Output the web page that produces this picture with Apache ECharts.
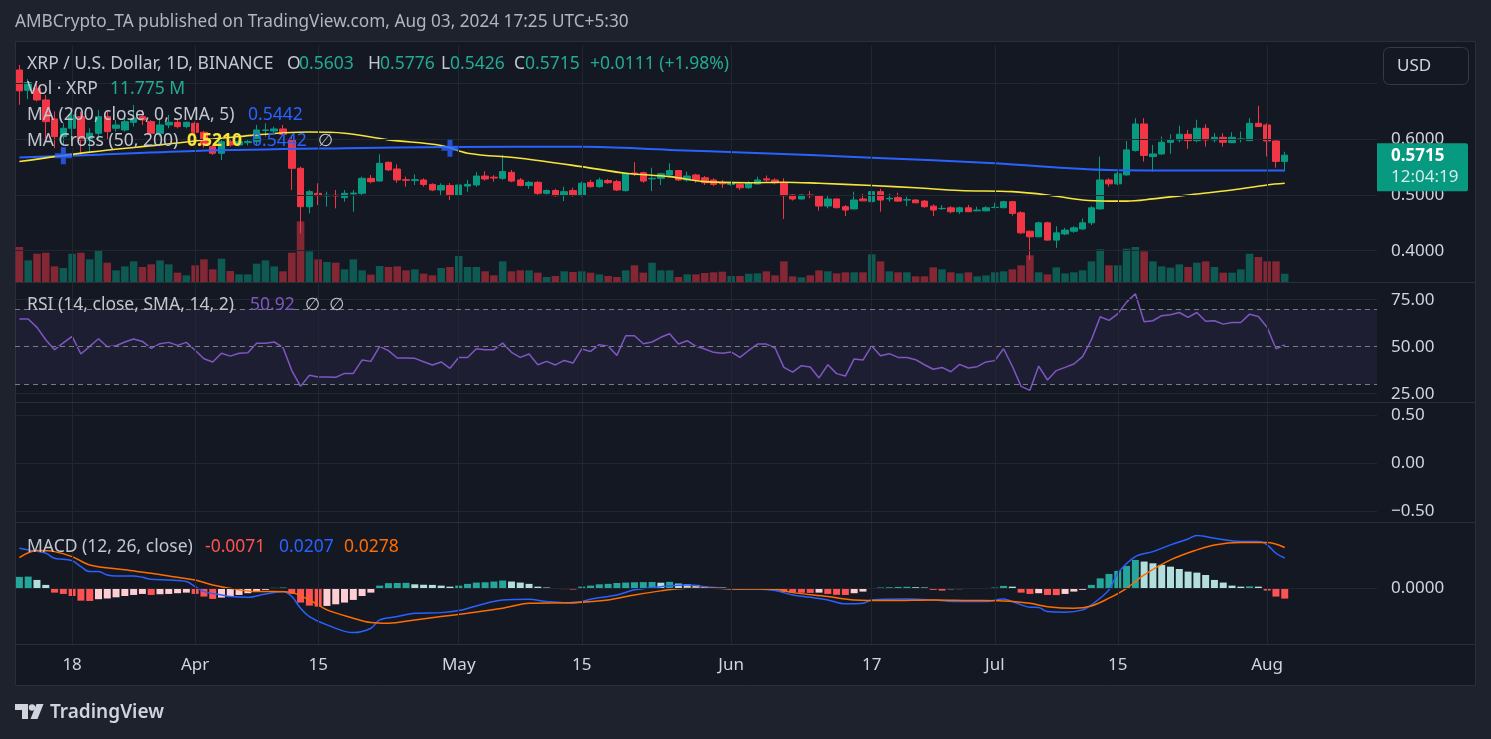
<!DOCTYPE html>
<html><head><meta charset="utf-8">
<script src="https://cdn.jsdelivr.net/npm/echarts@6/dist/echarts.min.js"></script>
<style>html,body{margin:0;padding:0;background:#1e222d;overflow:hidden}#c{width:1491px;height:739px}</style>
</head><body><div id="c"></div>
<script>
// ---------------- DATA ----------------
const startDate = [2024, 2, 12]; // Mar 12 2024, first daily candle
const dayCount = 155;            // categories shown on the time axis (incl. empty right margin)
// [open, high, low, close]
const candles = [
[0.7245,0.7335,0.662,0.687],[0.688,0.708,0.672,0.702],[0.6916,0.705,0.668,0.6707],[0.6707,0.6796,0.6018,0.6317],
[0.6365,0.650,0.584,0.6048],[0.6048,0.629,0.590,0.6198],[0.6198,0.6527,0.596,0.6437],[0.6407,0.6497,0.572,0.5988],
[0.5988,0.620,0.578,0.6108],[0.6108,0.6527,0.5988,0.6407],[0.6407,0.6497,0.5988,0.6138],[0.6198,0.6347,0.6138,0.6257],
[0.6168,0.6497,0.6138,0.6317],[0.6305,0.6617,0.6228,0.6377],[0.6407,0.6527,0.6257,0.6347],[0.6317,0.6347,0.6078,0.6108],
[0.6108,0.6377,0.6048,0.6257],[0.6257,0.6437,0.6198,0.6305],[0.6305,0.6347,0.6198,0.6228],[0.6228,0.6317,0.6198,0.6305],
[0.6287,0.6317,0.6048,0.6126],[0.6126,0.615,0.585,0.590],[0.5868,0.5898,0.5719,0.5749],[0.5749,0.6018,0.5629,0.5958],
[0.5958,0.600,0.5868,0.5898],[0.5898,0.600,0.5868,0.5958],[0.594,0.600,0.589,0.596],[0.5958,0.6257,0.5898,0.6168],
[0.616,0.6287,0.6048,0.6168],[0.615,0.6228,0.612,0.6186],[0.6186,0.6257,0.6078,0.609],[0.5988,0.6078,0.509,0.5479],
[0.5479,0.551,0.431,0.479],[0.479,0.509,0.467,0.506],[0.503,0.521,0.482,0.4988],[0.4985,0.506,0.479,0.4995],
[0.4995,0.509,0.476,0.4985],[0.4952,0.509,0.488,0.503],[0.502,0.509,0.470,0.5035],[0.503,0.533,0.500,0.5299],
[0.5299,0.5359,0.521,0.5239],[0.5251,0.573,0.5239,0.5569],[0.5587,0.560,0.543,0.545],[0.5467,0.555,0.522,0.527],
[0.5275,0.533,0.515,0.5265],[0.526,0.537,0.518,0.5275],[0.527,0.530,0.515,0.519],[0.519,0.521,0.507,0.509],
[0.509,0.521,0.500,0.517],[0.517,0.5215,0.491,0.500],[0.500,0.521,0.481,0.518],[0.516,0.527,0.506,0.519],
[0.518,0.541,0.515,0.534],[0.534,0.5425,0.526,0.5287],[0.532,0.5355,0.524,0.5305],[0.530,0.572,0.527,0.542],
[0.5407,0.545,0.523,0.525],[0.527,0.5305,0.5155,0.517],[0.517,0.525,0.511,0.5227],[0.5227,0.525,0.500,0.503],
[0.503,0.510,0.501,0.508],[0.508,0.511,0.497,0.4988],[0.500,0.515,0.489,0.506],[0.508,0.513,0.497,0.500],
[0.500,0.524,0.497,0.521],[0.5227,0.527,0.513,0.515],[0.515,0.531,0.513,0.527],[0.526,0.529,0.520,0.522],
[0.524,0.527,0.507,0.509],[0.508,0.540,0.506,0.539],[0.5395,0.559,0.534,0.538],[0.540,0.542,0.522,0.525],
[0.529,0.549,0.507,0.530],[0.530,0.540,0.518,0.538],[0.536,0.557,0.535,0.544],[0.544,0.545,0.525,0.527],
[0.527,0.542,0.524,0.534],[0.536,0.538,0.522,0.527],[0.531,0.534,0.518,0.522],[0.527,0.530,0.516,0.519],
[0.5215,0.527,0.513,0.520],[0.519,0.524,0.516,0.5215],[0.519,0.521,0.509,0.513],[0.513,0.525,0.511,0.522],
[0.5198,0.533,0.519,0.527],[0.529,0.535,0.524,0.527],[0.527,0.530,0.519,0.522],[0.522,0.530,0.457,0.4988],
[0.500,0.501,0.490,0.4928],[0.4928,0.501,0.492,0.500],[0.500,0.507,0.494,0.4988],[0.4982,0.4985,0.472,0.4802],
[0.4802,0.500,0.476,0.4928],[0.4928,0.4935,0.476,0.4772],[0.479,0.482,0.462,0.473],[0.475,0.506,0.475,0.491],
[0.4928,0.502,0.489,0.4895],[0.488,0.522,0.486,0.506],[0.506,0.511,0.470,0.491],[0.493,0.502,0.488,0.494],
[0.4952,0.504,0.4885,0.489],[0.491,0.497,0.480,0.4915],[0.491,0.492,0.4855,0.486],[0.489,0.491,0.4772,0.479],
[0.480,0.483,0.462,0.473],[0.4755,0.482,0.473,0.476],[0.477,0.480,0.467,0.470],[0.470,0.479,0.466,0.477],
[0.477,0.482,0.4695,0.470],[0.4715,0.479,0.471,0.473],[0.4715,0.480,0.471,0.477],[0.4775,0.486,0.476,0.478],
[0.4772,0.4895,0.476,0.488],[0.488,0.4895,0.463,0.467],[0.468,0.471,0.430,0.432],[0.435,0.436,0.383,0.425],
[0.425,0.452,0.424,0.450],[0.450,0.452,0.418,0.419],[0.419,0.444,0.405,0.432],[0.430,0.441,0.428,0.437],
[0.435,0.444,0.432,0.441],[0.439,0.458,0.437,0.450],[0.450,0.480,0.446,0.477],[0.475,0.569,0.474,0.527],
[0.527,0.530,0.515,0.520],[0.520,0.542,0.518,0.538],[0.536,0.597,0.535,0.581],[0.580,0.638,0.578,0.6275],
[0.6275,0.638,0.560,0.571],[0.569,0.590,0.542,0.5737],[0.5737,0.605,0.572,0.5946],[0.5946,0.609,0.5737,0.5988],
[0.5988,0.6245,0.5946,0.609],[0.609,0.6168,0.583,0.5976],[0.5976,0.635,0.5946,0.6198],[0.6198,0.627,0.587,0.5988],
[0.5988,0.611,0.5946,0.6036],[0.6036,0.611,0.587,0.5946],[0.594,0.6126,0.593,0.6036],[0.600,0.6138,0.5946,0.6006],
[0.5976,0.638,0.597,0.6287],[0.6287,0.660,0.622,0.6228],[0.6257,0.6287,0.569,0.597],[0.597,0.598,0.549,0.5603],
[0.5603,0.5776,0.5426,0.5715]
];
// volume (millions XRP)
const volumes = [
49.5,30.6,40.0,41.4,22.1,19.8,40.0,41.4,32.0,44.7,27.3,16.5,22.1,29.2,21.2,25.0,30.6,25.0,13.2,9.4,
23.6,32.0,17.9,33.0,15.5,10.8,10.8,25.9,30.6,22.1,15.1,41.4,85.7,43.3,32.0,28.3,27.3,17.9,32.0,16.5,
10.4,22.6,21.2,22.1,16.5,17.9,11.8,9.4,19.8,21.2,36.7,21.2,21.2,15.1,9.4,29.2,15.1,16.5,16.5,13.2,
7.1,8.5,15.1,14.1,15.1,13.2,10.8,8.5,7.1,16.5,23.6,13.2,27.3,16.5,16.5,7.1,10.8,10.8,12.7,13.7,
14.6,8.5,8.5,11.8,12.2,15.1,9.4,29.2,8.0,6.6,9.4,16.5,15.1,12.2,13.7,13.7,13.7,39.1,29.2,15.1,
13.7,13.7,8.0,8.0,20.7,17.9,13.7,12.2,13.7,8.0,9.4,13.7,15.1,17.9,23.6,37.7,13.7,10.8,20.7,12.2,
13.7,16.5,29.2,46.2,23.6,23.6,47.1,49.5,43.3,29.2,22.1,20.3,25.0,21.2,27.3,29.2,21.2,13.2,13.2,17.9,
40.0,35.3,29.2,29.2,11.775
];
// MA 200 (blue) and MA 50 (yellow) read at [dayIndex, value]
const ma200Pts = [[0,0.5675],[5,0.5700],[20,0.5790],[37,0.5840],[49,0.5860],[64,0.5865],[74,0.5810],[83,0.5760],[97,0.5670],[111,0.5570],[124,0.5450],[135,0.5440],[144,0.5442]];
const ma50Pts = [[0,0.560],[8,0.577],[16,0.590],[25,0.605],[33,0.613],[37,0.611],[42,0.599],[48,0.589],[51,0.575],[57,0.566],[64,0.551],[69,0.539],[74,0.533],[78,0.524],[83,0.522],[87,0.523],[91,0.521],[97,0.517],[102,0.513],[107,0.508],[113,0.506],[117,0.500],[121,0.491],[124,0.489],[126,0.489],[129,0.493],[133,0.500],[138,0.509],[142,0.518],[144,0.521]];
const crossPts = [[5,0.5705],[49,0.5840]];
// RSI (14)
const rsi = [
64.7,64.7,60.3,53.7,48.4,52.0,55.5,46.1,50.2,54.2,50.0,50.5,52.5,54.1,52.8,49.1,51.6,52.3,50.7,52.3,
48.1,43.6,41.9,46.5,45.0,46.5,46.8,51.8,51.8,52.5,49.6,37.3,28.9,34.8,33.9,33.9,33.7,35.8,35.8,42.9,
42.2,50.2,47.9,44.0,44.0,43.8,42.0,40.3,41.9,38.5,44.3,44.3,48.9,48.4,48.4,51.9,47.0,44.3,46.1,40.4,
42.2,40.3,42.7,41.3,48.8,47.5,51.1,50.2,45.4,55.8,55.8,51.6,52.5,55.0,56.9,51.4,53.2,50.2,48.8,47.0,
46.5,47.2,44.3,48.0,51.4,51.4,49.3,39.0,36.5,39.9,39.2,33.4,40.4,35.7,34.4,43.5,42.9,50.4,45.2,46.3,
44.3,44.3,43.1,40.4,38.0,39.0,36.7,40.6,38.7,39.4,41.9,42.6,48.9,39.6,28.9,26.8,39.7,32.3,37.3,39.0,
40.8,44.7,53.7,65.9,64.0,67.5,73.7,78.1,63.3,63.8,66.5,67.0,68.2,65.6,68.2,63.5,63.8,62.0,62.9,62.9,
67.3,66.1,60.3,48.9,50.92
];
// MACD (12,26) histogram
const hist = [
0.0078,0.0080,0.0057,0.0023,-0.0030,-0.0039,-0.0053,-0.0085,-0.0087,-0.0075,-0.0070,-0.0062,-0.0053,-0.0046,-0.0039,-0.0046,-0.0041,-0.0039,-0.0034,-0.0030,
-0.0039,-0.0057,-0.0073,-0.0064,-0.0053,-0.0046,-0.0034,-0.0023,-0.0011,0.0003,0.0005,-0.0039,-0.0098,-0.0119,-0.0126,-0.0121,-0.0110,-0.0098,-0.0080,-0.0053,
-0.0030,0.0018,0.0035,0.0036,0.0037,0.0027,0.0024,0.0023,0.0018,0.0011,0.0018,0.0030,0.0039,0.0041,0.0046,0.0053,0.0046,0.0039,0.0030,0.0011,
0.0005,-0.0005,-0.0006,-0.0009,0.0011,0.0018,0.0027,0.0030,0.0036,0.0039,0.0041,0.0042,0.0043,0.0038,0.0044,0.0032,0.0027,0.0023,0.0011,0.0009,
0.0005,-0.0007,-0.0006,-0.0005,-0.0004,-0.0004,-0.0011,-0.0027,-0.0030,-0.0031,-0.0032,-0.0030,-0.0039,-0.0045,-0.0046,-0.0034,-0.0023,-0.0005,0.0005,0.0007,
0.0009,0.0010,0.0007,0.0005,-0.0011,-0.0016,-0.0007,-0.0006,-0.0005,-0.0004,-0.0002,0.0005,0.0016,0.0011,-0.0030,-0.0039,-0.0034,-0.0046,-0.0047,-0.0039,
-0.0023,-0.0011,0.0023,0.0068,0.0098,0.0119,0.0153,0.0194,0.0183,0.0171,0.0160,0.0148,0.0132,0.0114,0.0107,0.0091,0.0057,0.0039,0.0018,0.0011,
0.0013,0.0011,-0.0016,-0.0057,-0.0071
];
// MACD line and signal line read at [dayIndex, value]
const macdPts = [[0,0.0274],[1,0.0263],[3,0.0240],[4,0.0205],[5,0.0199],[6,0.0189],[7,0.0148],[8,0.0114],[9,0.0114],[10,0.0091],[11,0.0084],[13,0.0084],[14,0.0075],[15,0.0062],[17,0.0057],[19,0.0046],[20,0.0011],[21,-0.0023],[23,-0.0046],[24,-0.0057],[26,-0.0062],[28,-0.0039],[30,-0.0023],[31,-0.0057],[32,-0.0137],[33,-0.0194],[35,-0.0251],[38,-0.0304],[40,-0.0274],[41,-0.0217],[43,-0.0194],[45,-0.0171],[48,-0.0167],[50,-0.0153],[52,-0.0121],[55,-0.0080],[58,-0.0075],[60,-0.0091],[63,-0.0103],[65,-0.0075],[68,-0.0046],[70,-0.0011],[73,0.0011],[76,0.0023],[78,0.0011],[81,-0.0005],[84,-0.0005],[86,-0.0016],[88,-0.0046],[90,-0.0062],[92,-0.0080],[94,-0.0107],[96,-0.0103],[97,-0.0080],[101,-0.0073],[104,-0.0080],[107,-0.0091],[110,-0.0091],[112,-0.0073],[113,-0.0091],[115,-0.0130],[116,-0.0132],[117,-0.0160],[119,-0.0164],[121,-0.0148],[122,-0.0114],[124,-0.0011],[125,0.0103],[127,0.0217],[129,0.0251],[131,0.0297],[133,0.0338],[134,0.0361],[136,0.0342],[139,0.0320],[141,0.0320],[142,0.0297],[143,0.0240],[144,0.0207]];
const signalPts = [[0,0.0210],[2,0.0258],[4,0.0251],[6,0.0217],[8,0.0160],[12,0.0126],[15,0.0103],[18,0.0075],[20,0.0057],[22,0.0023],[25,-0.0011],[27,-0.0023],[29,-0.0023],[31,-0.0030],[33,-0.0080],[35,-0.0148],[38,-0.0205],[40,-0.0235],[42,-0.0240],[45,-0.0217],[48,-0.0194],[51,-0.0171],[55,-0.0137],[58,-0.0103],[63,-0.0098],[67,-0.0080],[70,-0.0046],[73,-0.0018],[76,0.0000],[79,0.0000],[82,-0.0005],[86,-0.0007],[88,-0.0030],[92,-0.0057],[95,-0.0080],[99,-0.0084],[104,-0.0080],[108,-0.0084],[112,-0.0087],[115,-0.0103],[117,-0.0126],[120,-0.0137],[122,-0.0121],[124,-0.0068],[126,0.0000],[128,0.0091],[131,0.0194],[134,0.0263],[136,0.0297],[139,0.0313],[142,0.0313],[144,0.0279]];
// axis ticks
const tickDates = ['2024-03-18','2024-04-01','2024-04-15','2024-05-01','2024-05-15','2024-06-01','2024-06-17','2024-07-01','2024-07-15','2024-08-01'];
const tickLabels = ['18','Apr','15','May','15','Jun','17','Jul','15','Aug'];
const priceGrid = [0.4, 0.5, 0.6, 0.7];
const priceTicks = [0.4, 0.5, 0.6];
const priceTickLabels = ['0.4000','0.5000','0.6000'];
const rsiTicks = [75, 50, 25];
const rsiTickLabels = ['75.00','50.00','25.00'];
const rsiLevels = [70, 50, 30];
const paneTicks = [0.5, 0, -0.5];
const paneTickLabels = ['0.50','0.00','\u22120.50'];
const macdTicks = [0];
const macdTickLabels = ['0.0000'];

// ---------------- STYLE ----------------
const FONT = '"Noto Sans", Roboto, "DejaVu Sans", sans-serif';
const UP = '#089981', DOWN = '#f23645';
const GRID = '#22262f';
const TXT = '#c3c6ce', AXT = '#d1d4dc';

const dates = [];
const t0 = Date.UTC(startDate[0], startDate[1], startDate[2]);
for (let i = 0; i < dayCount; i++) dates.push(new Date(t0 + i * 86400000).toISOString().slice(0, 10));

const chart = echarts.init(document.getElementById('c'), null, {renderer: 'canvas'});

const grids = [
  {left: 15, top: 45, width: 1362, height: 237},
  {left: 15, top: 282, width: 1362, height: 120},
  {left: 15, top: 402, width: 1362, height: 120},
  {left: 15, top: 522, width: 1362, height: 122}
];
const xAxes = grids.map((g, i) => ({
  type: 'category', gridIndex: i, data: dates, boundaryGap: true,
  axisLine: {show: false}, axisTick: {show: false}, splitLine: {show: false},
  axisLabel: i === 3 ? {
    show: true, margin: 13, color: AXT, fontSize: 17, fontFamily: FONT,
    interval: (idx, v) => tickDates.indexOf(v) >= 0,
    formatter: v => tickLabels[tickDates.indexOf(v)]
  } : {show: false}
}));
const yAxes = [
  {gridIndex: 0, type: 'value', min: 0.3438, max: 0.7693, show: false},
  {gridIndex: 0, type: 'value', min: 0, max: 335, show: false},
  {gridIndex: 1, type: 'value', min: 20.6, max: 84.4, show: false},
  {gridIndex: 2, type: 'value', min: -0.608, max: 0.635, show: false},
  {gridIndex: 3, type: 'value', min: -0.0382, max: 0.0454, show: false}
];

function gridLines(vals) { return vals.map(v => ({yAxis: v, lineStyle: {color: GRID, type: 'solid', width: 1}, label: {show: false}})); }
function vLines() { return tickDates.map(d => ({xAxis: d, lineStyle: {color: GRID, type: 'solid', width: 1}, label: {show: false}})); }
function axisTexts(vals, texts) {
  return vals.map((v, i) => ({yAxis: v, lineStyle: {color: 'rgba(0,0,0,0)', width: 1},
    label: {show: true, position: 'end', distance: 14, formatter: texts[i], color: AXT, fontSize: 17, fontFamily: FONT, opacity: 1}}));
}
function helper(gi, yi, data) {
  return {type: 'line', xAxisIndex: gi, yAxisIndex: yi, data: [], silent: true, z: 1,
    markLine: {silent: true, symbol: ['none', 'none'], animation: false, data: data}};
}
const toPairs = pts => pts.map(p => [dates[p[0]], p[1]]);

const histColors = hist.map((v, i) => {
  const p = i > 0 ? hist[i - 1] : v - 1;
  if (v >= 0) return p < v ? '#26a69a' : '#b2dfdb';
  return p < v ? '#ffcdd2' : '#ff5252';
});

const series = [
  helper(0, 0, gridLines(priceGrid).concat(vLines())),
  helper(0, 0, axisTexts(priceTicks, priceTickLabels)),
  helper(1, 2, gridLines(rsiTicks).concat(vLines())),
  helper(1, 2, axisTexts(rsiTicks, rsiTickLabels)),
  helper(2, 3, gridLines(paneTicks).concat(vLines())),
  helper(2, 3, axisTexts(paneTicks, paneTickLabels)),
  helper(3, 4, gridLines(macdTicks).concat(vLines())),
  helper(3, 4, axisTexts(macdTicks, macdTickLabels)),
  {type: 'bar', xAxisIndex: 0, yAxisIndex: 1, z: 2, barWidth: '86%',
    data: volumes.map((v, i) => ({value: v, itemStyle: {color: candles[i][3] >= candles[i][0] ? 'rgba(8,153,129,0.5)' : 'rgba(242,54,69,0.5)'}}))},
  {type: 'candlestick', xAxisIndex: 0, yAxisIndex: 0, z: 3, barWidth: 7,
    data: candles.map(c => [c[0], c[3], c[2], c[1]]),
    itemStyle: {color: UP, color0: DOWN, borderColor: UP, borderColor0: DOWN, borderColorDoji: UP, borderWidth: 1}},
  {type: 'line', xAxisIndex: 0, yAxisIndex: 0, z: 4, data: toPairs(ma200Pts), smooth: 0.35, showSymbol: false,
    lineStyle: {color: '#2962ff', width: 2}},
  {type: 'line', xAxisIndex: 0, yAxisIndex: 0, z: 4, data: toPairs(ma50Pts), smooth: 0.35, showSymbol: false,
    lineStyle: {color: '#f7e43a', width: 1.6}},
  {type: 'scatter', xAxisIndex: 0, yAxisIndex: 0, z: 5, data: toPairs(crossPts), symbolSize: 17,
    symbol: 'path://M6,0H11V6H17V11H11V17H6V11H0V6H6Z', itemStyle: {color: '#2962ff'}},
  {type: 'line', xAxisIndex: 1, yAxisIndex: 2, z: 4, data: rsi, showSymbol: false,
    lineStyle: {color: '#7e57c2', width: 1.5},
    markArea: {silent: true, itemStyle: {color: 'rgba(126,87,194,0.10)'}, data: [[{yAxis: 30}, {yAxis: 70}]]},
    markLine: {silent: true, symbol: ['none', 'none'], animation: false,
      data: rsiLevels.map(v => ({yAxis: v, label: {show: false}, lineStyle: {color: '#787b86', type: [5, 4], width: 1}}))}},
  {type: 'bar', xAxisIndex: 3, yAxisIndex: 4, z: 2, barWidth: 7,
    data: hist.map((v, i) => ({value: v, itemStyle: {color: histColors[i]}})),
    markLine: {silent: true, symbol: ['none', 'none'], animation: false, z: 1,
      data: [{yAxis: 0, label: {show: false}, lineStyle: {color: 'rgba(120,123,134,0.6)', type: [4, 4], width: 1}}]}},
  {type: 'line', xAxisIndex: 3, yAxisIndex: 4, z: 4, data: toPairs(macdPts), smooth: 0.35, showSymbol: false,
    lineStyle: {color: '#2962ff', width: 1.5}},
  {type: 'line', xAxisIndex: 3, yAxisIndex: 4, z: 4, data: toPairs(signalPts), smooth: 0.35, showSymbol: false,
    lineStyle: {color: '#ff6d00', width: 1.5}}
];

chart.setOption({
  animation: false,
  backgroundColor: 'transparent',
  grid: grids, xAxis: xAxes, yAxis: yAxes, series: series
});

// ---------------- TEXT / DECOR ----------------
const FS = 17.5;
function T(x, y, text, fill, size, weight) {
  return {type: 'text', x: x, y: y, z: 100, silent: true,
    style: {text: text, fill: fill, font: (weight || 'normal') + ' ' + size + 'px ' + FONT, verticalAlign: 'middle', align: 'left'}};
}
function L(x1, y1, x2, y2, c) {
  return {type: 'line', z: 50, silent: true, shape: {x1: x1, y1: y1, x2: x2, y2: y2}, style: {stroke: c, lineWidth: 1}};
}
const G = '#22ab94';
const last = candles[candles.length - 1];
const yTag = chart.convertToPixel({yAxisIndex: 0}, last[3]);
const elements = [
  {type: 'rect', z: -10, silent: true, shape: {x: 15.5, y: 41.5, width: 1460, height: 644}, style: {fill: '#141823', stroke: '#2a2e39', lineWidth: 1}},
  L(15, 282.5, 1476, 282.5, '#2a2e39'), L(15, 402.5, 1476, 402.5, '#2a2e39'), L(15, 522.5, 1476, 522.5, '#2a2e39'), L(15, 644.5, 1476, 644.5, '#2a2e39'),
  T(15, 22, 'AMBCrypto_TA published on TradingView.com, Aug 03, 2024 17:25 UTC+5:30', '#b2b5be', 17.2),
  // legend line 1
  T(27, 64, 'XRP / U.S. Dollar, 1D, BINANCE', TXT, FS),
  T(287, 64, 'O', TXT, FS), T(299, 64, last[0].toFixed(4), G, FS),
  T(368, 64, 'H', TXT, FS), T(380, 64, last[1].toFixed(4), G, FS),
  T(441, 64, 'L', TXT, FS), T(450, 64, last[2].toFixed(4), G, FS),
  T(514, 64, 'C', TXT, FS), T(525, 64, last[3].toFixed(4), G, FS),
  T(590, 64, '+0.0111 (+1.98%)', G, FS),
  T(27, 89.5, 'Vol · XRP', TXT, FS), T(110, 89.5, volumes[volumes.length - 1].toFixed(3) + ' M', G, FS),
  T(27, 115, 'MA (200, close, 0, SMA, 5)', TXT, FS), T(248, 115, '0.5442', '#2962ff', FS),
  T(27, 141.5, 'MA Cross (50, 200)', TXT, FS), T(187, 141.5, '0.5210', '#f7e43a', FS, 'bold'),
  T(252, 141.5, '0.5442', '#2962ff', FS), T(318, 141.5, '∅', TXT, FS),
  T(27, 305, 'RSI (14, close, SMA, 14, 2)', TXT, FS), T(250, 305, rsi[rsi.length - 1].toFixed(2), '#7e57c2', FS), T(305, 305, '∅  ∅', TXT, FS),
  T(27, 547, 'MACD (12, 26, close)', TXT, FS), T(205, 547, hist[hist.length - 1].toFixed(4), '#ff5252', FS),
  T(279, 547, '0.0207', '#2962ff', FS), T(344, 547, '0.0278', '#ff6d00', FS),
  // USD box
  {type: 'rect', z: 90, silent: true, shape: {x: 1383.5, y: 47.5, width: 85, height: 37, r: 6}, style: {fill: '#141823', stroke: '#363a45', lineWidth: 1}},
  T(1397, 66, 'USD', AXT, 17),
  // price tag
  {type: 'rect', z: 95, silent: true, shape: {x: 1377, y: yTag - 12, width: 91, height: 48, r: [0, 2, 2, 0]}, style: {fill: UP}},
  T(1391, yTag + 1, last[3].toFixed(4), '#ffffff', 17, 'bold'),
  T(1391, yTag + 22, '12:04:19', 'rgba(255,255,255,0.82)', 17),
  // footer logo
  {type: 'polygon', z: 100, silent: true, shape: {points: [[15, 704], [28, 704], [28, 719], [22, 719], [22, 710], [15, 710]]}, style: {fill: '#d1d4dc'}},
  {type: 'circle', z: 100, silent: true, shape: {cx: 32, cy: 707.5, r: 3.2}, style: {fill: '#d1d4dc'}},
  {type: 'polygon', z: 100, silent: true, shape: {points: [[36.5, 704], [43.5, 704], [37.5, 719], [30.5, 719]]}, style: {fill: '#d1d4dc'}},
  T(50, 713, 'TradingView', '#d1d4dc', 19, '600')
];
chart.setOption({graphic: {elements: elements}});
</script>
</body></html>
